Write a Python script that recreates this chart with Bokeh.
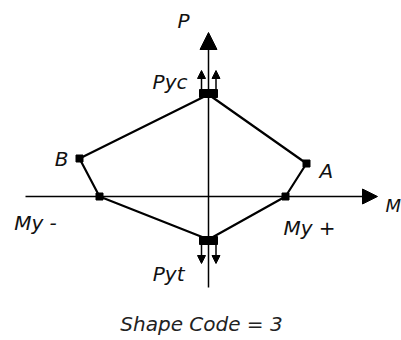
from bokeh.plotting import figure
from bokeh.models import Range1d, Arrow, NormalHead
from bokeh.core.properties import value
from bokeh.embed import file_html
from bokeh.resources import INLINE

# Interaction diagram vertices (moment M, axial load P), normalized units
vertex_names = ["Pyc", "A", "My +", "Pyt", "My -", "B"]
m_vals = [0.0, 0.98, 0.77, 0.0, -1.09, -1.29]
p_vals = [1.02, 0.33, 0.0, -0.43, 0.0, 0.38]
axis_labels = ["M", "P"]
caption = "Shape Code = 3"

FONT = value("DejaVu Sans")
FS = "20px"

p = figure(width=401, height=340, x_range=Range1d(-2.08, 1.93), y_range=Range1d(-1.44, 1.96),
           x_axis_type=None, y_axis_type=None, toolbar_location=None, output_backend="svg",
           min_border=0, outline_line_color=None, background_fill_color="white",
           border_fill_color="white")
p.grid.visible = False

# coordinate axes with arrow heads
p.add_layout(Arrow(x_start=-1.83, y_start=0, x_end=1.69, y_end=0, line_width=1.5,
                   end=NormalHead(size=15, fill_color="black", line_color="black")))
p.add_layout(Arrow(x_start=0, y_start=-0.91, x_end=0, y_end=1.64, line_width=1.5,
                   end=NormalHead(size=17, fill_color="black", line_color="black")))

# closed interaction polygon
xs = m_vals + [m_vals[0]]
ys = p_vals + [p_vals[0]]
p.line(xs, ys, line_color="black", line_width=2.2)

corner = [i for i, n in enumerate(vertex_names) if n not in ("Pyc", "Pyt")]
p.scatter([m_vals[i] for i in corner], [p_vals[i] for i in corner], marker="square",
          size=7, fill_color="black", line_color="black")

# pure axial capacity points drawn as small blocks with double load arrows
i_c = vertex_names.index("Pyc")
i_t = vertex_names.index("Pyt")
p.rect([m_vals[i_c], m_vals[i_t]], [p_vals[i_c] + 0.01, p_vals[i_t] - 0.01],
       width=0.18, height=0.08, fill_color="black", line_color="black")
for dx in (-0.07, 0.075):
    p.add_layout(Arrow(x_start=m_vals[i_c] + dx, y_start=p_vals[i_c] + 0.05,
                       x_end=m_vals[i_c] + dx, y_end=p_vals[i_c] + 0.24, line_width=1.5,
                       end=NormalHead(size=8, fill_color="black", line_color="black")))
    p.add_layout(Arrow(x_start=m_vals[i_t] + dx, y_start=p_vals[i_t] - 0.05,
                       x_end=m_vals[i_t] + dx, y_end=p_vals[i_t] - 0.24, line_width=1.5,
                       end=NormalHead(size=8, fill_color="black", line_color="black")))

# vertex labels, placed with screen-pixel offsets (right, down) from each vertex
offsets = {"Pyc": (-21, -13, "right"), "A": (13, 7, "left"), "My +": (24, 31, "center"),
           "Pyt": (-24, 34, "right"), "My -": (-64, 26, "center"), "B": (-11, 0, "right")}
for i, n in enumerate(vertex_names):
    dx, dy, al = offsets[n]
    p.text([m_vals[i]], [p_vals[i]], text=[n], x_offset=dx, y_offset=dy,
           text_align=al, text_baseline="middle", text_font=FONT, text_font_style="italic",
           text_font_size=FS, text_color="#111111")

# axis names
p.text([1.77], [-0.09], text=[axis_labels[0]], text_align="left", text_baseline="middle",
       text_font=FONT, text_font_style="italic", text_font_size="18px", text_color="#111111")
p.text([-0.25], [1.76], text=[axis_labels[1]], text_align="center", text_baseline="middle",
       text_font=FONT, text_font_style="italic", text_font_size=FS, text_color="#111111")

# caption
p.text([-0.07], [-1.27], text=[caption], text_align="center", text_baseline="middle",
       text_font=FONT, text_font_style="italic", text_font_size=FS, text_color="#222222")

open("out.html", "w").write(file_html(p, INLINE))
